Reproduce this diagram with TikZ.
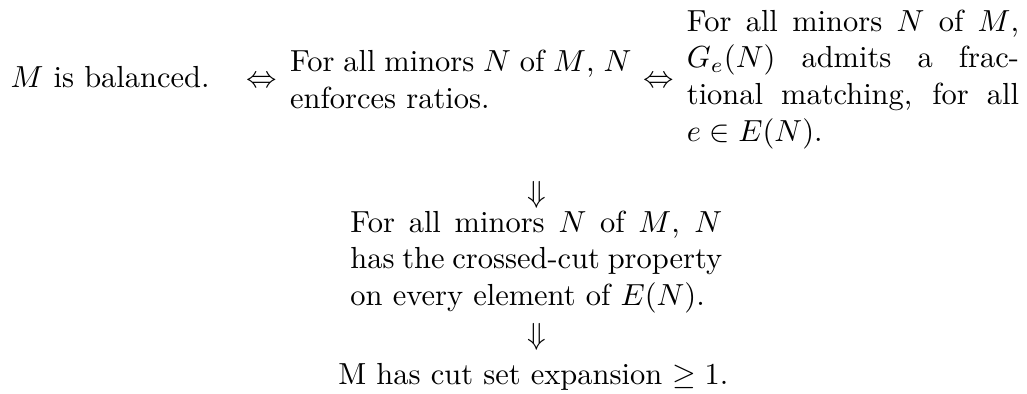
\documentclass[tikz,border=0pt]{standalone}
\usepackage{amsmath}
\usepackage{tikz}

\begin{document}
\begin{tikzpicture}[x=1pt, y=-1pt,
  stmt/.style={inner sep=0pt, align=justify, anchor=base west},
  rel/.style={inner sep=0pt, anchor=base}]
  \useasboundingbox (0,0) rectangle (337,129);
  % top row
  \node[rel, anchor=base west] (bal) at (3.3,28.6) {$M$ is balanced.};
  \node[rel] (iffa) at (86,28.6) {$\Leftrightarrow$};
  \node[stmt, text width=112pt] (ratio) at (95,23.6) {For all minors $N$ of $M$, $N$\linebreak enforces ratios.};
  \node[rel] (iffb) at (216,28.6) {$\Leftrightarrow$};
  \node[stmt, text width=109pt] (match) at (225.2,10.3) {For all minors $N$ of $M$,\linebreak $G_e(N)$ admits a frac-\linebreak tional matching, for all\linebreak $e\in E(N)$.};
  % downward chain
  \node[rel] (impa) at (176,66.3) {$\Downarrow$};
  \node[stmt, text width=122pt] (cross) at (114.8,76.2) {For all minors $N$ of $M$, $N$\linebreak has the crossed-cut property\linebreak on every element of $E(N)$.};
  \node[rel] (impb) at (176,113) {$\Downarrow$};
  \node[rel] (expand) at (175,126.3) {M has cut set expansion $\geq 1$.};
\end{tikzpicture}
\end{document}
